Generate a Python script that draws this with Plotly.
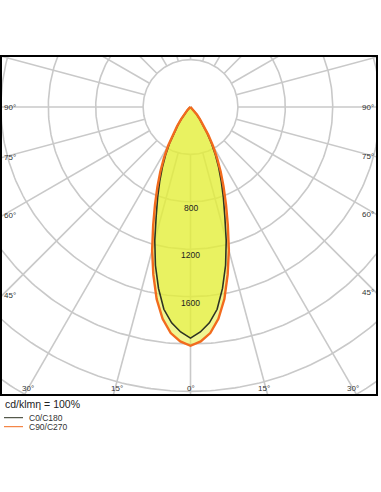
import numpy as np
import plotly.graph_objects as go

# ---- data (cd/klm) ----
angles = [0, 2.5, 5, 7.5, 10, 12.5, 15, 17.5, 20, 22.5, 25, 27.5, 30, 32.5, 35, 37.5, 40, 45, 50, 60, 70, 90]
c0_c180 = [1950, 1900, 1828, 1722, 1555, 1368, 1165, 962, 810, 679, 562, 456, 355, 261, 182, 122, 81, 35, 12, 4, 2, 0]
c90_c270 = [2015, 1980, 1915, 1803, 1646, 1449, 1251, 1048, 876, 729, 603, 486, 380, 279, 198, 132, 86, 38, 14, 5, 2, 0]
ring_values = [400, 800, 1200, 1600, 2000, 2400, 2800, 3200]
ring_labels = [800, 1200, 1600]
spoke_angles = list(range(0, 360, 15))
side_labels = [90, 75, 60, 45]
bottom_labels = [30, 15, 0]
series_names = ["C0/C180", "C90/C270"]
caption = "cd/klmη = 100%"

# ---- geometry of the page ----
W, H = 381, 492
PL, PR, PT, PB = 2, 376, 57, 394        # plot area in pixels
CX, CY = 190.5, 107                      # pole position in pixels
S = 0.1185                               # px per cd/klm
xmin, xmax = -(CX - PL) / S, (PR - CX) / S
ymax, ymin = (CY - PT) / S, -(PB - CY) / S

GRID = "#c9c9c9"
ORANGE = "#f26b1d"
DARK = "#2e3322"
FILL = "rgba(228,238,56,0.55)"
TXT = "#333333"

def px2paper_x(p):
    return (p - PL) / (PR - PL)

def px2paper_y(p):
    return (PB - p) / (PB - PT)

def full_curve(vals):
    a = np.array(angles, dtype=float)
    r = np.array(vals, dtype=float)
    th = np.concatenate([-a[::-1], a[1:]])
    rr = np.concatenate([r[::-1], r[1:]])
    t = np.radians(th)
    return rr * np.sin(t), -rr * np.cos(t)

fig = go.Figure()

# grid rings
for rv in ring_values:
    t = np.radians(np.linspace(0, 360, 361))
    fig.add_trace(go.Scatter(x=rv * np.sin(t), y=-rv * np.cos(t), mode="lines",
                             line=dict(color=GRID, width=1.6), hoverinfo="skip", showlegend=False))
# grid spokes
for a in spoke_angles:
    t = np.radians(a)
    r0, r1 = ring_values[0], ring_values[-1] + 400
    fig.add_trace(go.Scatter(x=[r0 * np.sin(t), r1 * np.sin(t)], y=[-r0 * np.cos(t), -r1 * np.cos(t)],
                             mode="lines", line=dict(color=GRID, width=1.6), hoverinfo="skip", showlegend=False))

# fills
for vals in (c90_c270, c0_c180):
    x, y = full_curve(vals)
    fig.add_trace(go.Scatter(x=x, y=y, mode="lines", fill="toself", fillcolor=FILL,
                             line=dict(width=0), hoverinfo="skip", showlegend=False))
# outlines
x, y = full_curve(c0_c180)
fig.add_trace(go.Scatter(x=x, y=y, mode="lines", line=dict(color=DARK, width=1.6),
                         name=series_names[0], showlegend=False))
x, y = full_curve(c90_c270)
fig.add_trace(go.Scatter(x=x, y=y, mode="lines", line=dict(color=ORANGE, width=2.4),
                         name=series_names[1], showlegend=False))

ann = []
# ring labels
for rv in ring_labels:
    ann.append(dict(x=0, y=-rv, xref="x", yref="y", text=str(rv), showarrow=False,
                    xanchor="center", yanchor="top", yshift=1,
                    font=dict(size=8.5, color="#222222", family="Liberation Sans, Arial")))
# side labels
for a in side_labels:
    t = np.radians(a)
    yl = -(-xmin) / np.tan(t) if a != 90 else 0.0
    yr = -(xmax) / np.tan(t) if a != 90 else 0.0
    ann.append(dict(x=xmin, y=yl, xref="x", yref="y", text=f"{a}°", showarrow=False,
                    xanchor="left", yanchor="middle",
                    font=dict(size=8, color=TXT, family="Liberation Sans, Arial")))
    ann.append(dict(x=xmax, y=yr, xref="x", yref="y", text=f"{a}°", showarrow=False,
                    xanchor="right", yanchor="middle",
                    font=dict(size=8, color=TXT, family="Liberation Sans, Arial")))
# bottom labels
for a in bottom_labels:
    t = np.radians(a)
    xb = (-ymin) * np.tan(t)
    for sgn in ([-1, 1] if a != 0 else [1]):
        ann.append(dict(x=sgn * xb, y=ymin, xref="x", yref="y", text=f"{a}°", showarrow=False,
                        xanchor="center", yanchor="bottom", xshift=-sgn * 3 if a else 0, yshift=-1,
                        font=dict(size=8, color=TXT, family="Liberation Sans, Arial")))
# caption
ann.append(dict(x=px2paper_x(3), y=px2paper_y(404), xref="paper", yref="paper", text=caption,
                showarrow=False, xanchor="left", yanchor="middle",
                font=dict(size=10.5, color="#222222", family="Liberation Sans, Arial")))
# legend
shapes = []
leg_y = [417.7, 426.7]
leg_c = [DARK, ORANGE]
for name, yy, c in zip(series_names, leg_y, leg_c):
    shapes.append(dict(type="line", xref="paper", yref="paper", x0=px2paper_x(4), x1=px2paper_x(23),
                       y0=px2paper_y(yy), y1=px2paper_y(yy), line=dict(color=c, width=1)))
    ann.append(dict(x=px2paper_x(26.5), y=px2paper_y(yy), xref="paper", yref="paper", text=name,
                    showarrow=False, xanchor="left", yanchor="middle",
                    font=dict(size=8.5, color=TXT, family="Liberation Sans, Arial")))

fig.update_layout(
    width=W, height=H,
    margin=dict(l=PL, r=W - PR, t=PT, b=H - PB, pad=0),
    paper_bgcolor="white", plot_bgcolor="white",
    xaxis=dict(range=[xmin, xmax], showgrid=False, zeroline=False, showticklabels=False, ticks="",
               showline=True, mirror=True, linecolor="black", linewidth=2, fixedrange=True),
    yaxis=dict(range=[ymin, ymax], showgrid=False, zeroline=False, showticklabels=False, ticks="",
               showline=True, mirror=True, linecolor="black", linewidth=2, fixedrange=True),
    annotations=ann, shapes=shapes, showlegend=False,
)
fig.write_html("out.html")
